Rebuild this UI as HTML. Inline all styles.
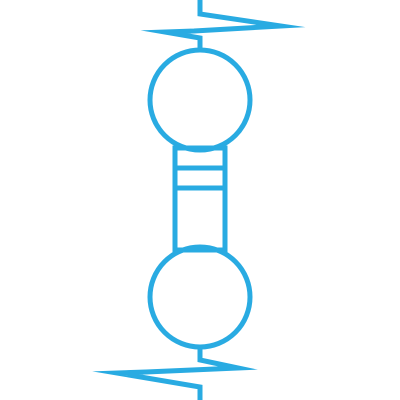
<!DOCTYPE html>
<html><head><style>html,body{margin:0;padding:0;background:#fff;width:400px;height:400px;overflow:hidden}</style></head>
<body>
<svg width="400" height="400" viewBox="0 0 400 400">
<g fill="none" stroke="#29abe2" stroke-width="5" stroke-linejoin="miter" stroke-miterlimit="60">
<polyline points="200,0 200,14 281,26 194,31 165,32 200,38 200,50"/>
<polyline points="200,347 200,360 238,368 146,372 117,373 200,387 200,400"/>
<circle cx="200" cy="100" r="50"/>
<rect x="175" y="148" width="50" height="102"/>
<line x1="175" y1="168" x2="225" y2="168"/>
<line x1="175" y1="188" x2="225" y2="188"/>
<circle cx="200" cy="297" r="50"/>
</g>
</svg>
</body></html>
